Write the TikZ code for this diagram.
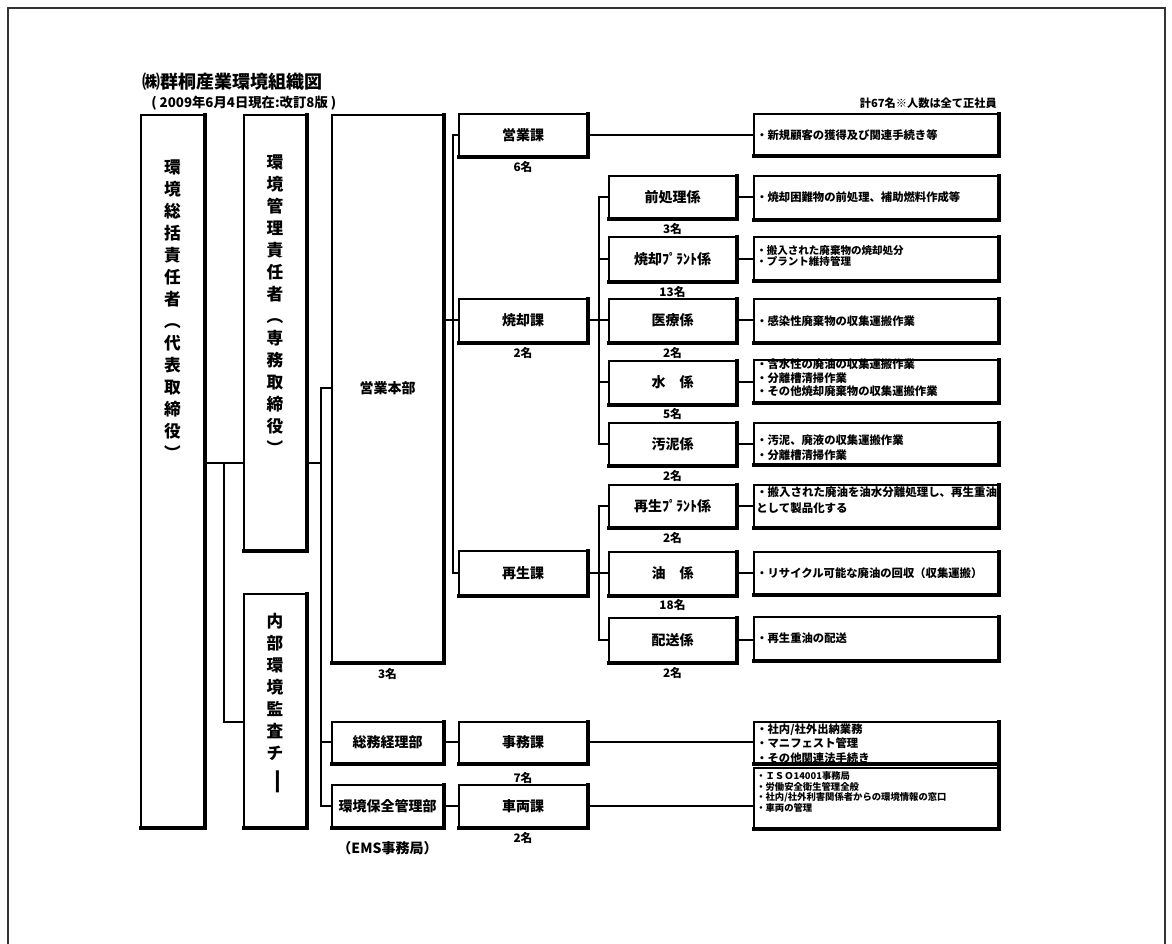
\documentclass[tikz,border=0pt]{standalone}
\usepackage{fontspec}
\usepackage{graphicx}
\setmainfont{Noto Sans CJK JP}
\newcommand\fsz[2]{\fontsize{#1}{#2}\selectfont}
\newcommand\shd[1]{\draw[line width=2.4pt,line join=miter,line cap=rect] ([xshift=0.7pt]#1.north east) -- ([xshift=0.7pt,yshift=-0.7pt]#1.south east) -- ([yshift=-0.7pt]#1.south west);}
\newcommand\mkbox[7][]{\node[bx,minimum width={(#5-#3)*0.75pt},minimum height={(#6-#4)*0.75pt},#1] (#2) at (#3,#4) {#7};\shd{#2}}
\begin{document}
\begin{tikzpicture}[x=0.75pt,y=-0.75pt,
  bx/.style={draw,line width=0.9pt,inner sep=0pt,outer sep=0pt,anchor=north west,font=\bfseries\fsz{10.5}{12}},
  vtx/.style={align=center,inner sep=0pt,anchor=north,font=\bfseries\fsz{12.5}{16.5}},
  num/.style={inner sep=0pt,font=\bfseries\fsz{8.8}{10}},
  dtx/.style={anchor=west,align=left,inner sep=0pt,font=\bfseries\fsz{8.5}{10}},
  cn/.style={line width=1.5pt}]
\useasboundingbox (0,0) rectangle (1172,944);
\draw[line width=1pt,black!80] (8,944) -- (8,8) -- (1165,8) -- (1165,944);
% titles
\node[anchor=west,inner sep=0pt,font=\bfseries\fsz{13.5}{14}] (title) at (142,82) {㈱群桐産業環境組織図};
\node[anchor=west,inner sep=0pt,font=\bfseries\fsz{10}{11}] (sub) at (151,103) {( 2009年6月4日現在:改訂8版 )};
\node[anchor=east,inner sep=0pt,font=\bfseries\fsz{8.4}{10}] (total) at (997,103) {計67名※人数は全て正社員};
% column 1-2
\mkbox{A}{141}{115}{204}{827}{}
\mkbox{B}{244}{115}{306}{550}{}
\mkbox{C}{244}{594}{306}{827}{}
\node[vtx] (tA) at (172.5,160) {環\\境\\総\\括\\責\\任\\者\\︵\\代\\表\\取\\締\\役\\︶};
\node[vtx] (tB) at (275,155) {環\\境\\管\\理\\責\\任\\者\\︵\\専\\務\\取\\締\\役\\︶};
\node[vtx] (tC) at (275,613) {内\\部\\環\\境\\監\\査\\チ\\[3pt]\rotatebox[origin=c]{-90}{\scalebox{1.6}[1]{ー}}};
% column 3
\mkbox{D}{332}{115}{443}{662}{営業本部}
\mkbox{So}{332}{722}{443}{763}{総務経理部}
\mkbox{Hk}{332}{785}{443}{827}{環境保全管理部}
\node[num] (nD) at (387.5,674) {3名};
\node[inner sep=0pt,font=\bfseries\fsz{10.5}{12}] (ems) at (387.5,848) {（EMS事務局）};
% column 4
\mkbox{K1}{459}{114}{587}{156}{営業課}
\mkbox{K2}{459}{299}{587}{342}{焼却課}
\mkbox{K3}{459}{551}{587}{595}{再生課}
\mkbox{J}{459}{722}{587}{763}{事務課}
\mkbox{Sh}{459}{785}{587}{827}{車両課}
\node[num] (nK1) at (523,167) {6名};
\node[num] (nK2) at (523,353) {2名};
\node[num] (nJ) at (523,778) {7名};
\node[num] (nSh) at (523,838) {2名};
% column 5
\mkbox{S1}{609}{176}{736}{218}{前処理係}
\mkbox{S2}{609}{237}{736}{281}{焼却ﾌﾟﾗﾝﾄ係}
\mkbox{S3}{609}{299}{736}{342}{医療係}
\mkbox{S4}{609}{361}{736}{404}{水　係}
\mkbox{S5}{609}{423}{736}{465}{汚泥係}
\mkbox{S6}{609}{485}{736}{527}{再生ﾌﾟﾗﾝﾄ係}
\mkbox{S7}{609}{552}{736}{595}{油　係}
\mkbox{S8}{609}{618}{736}{662}{配送係}
\node[num] (nS1) at (672.5,229) {3名};
\node[num] (nS2) at (672.5,292) {13名};
\node[num] (nS3) at (672.5,353) {2名};
\node[num] (nS4) at (672.5,414) {5名};
\node[num] (nS5) at (672.5,476) {2名};
\node[num] (nS6) at (672.5,538) {2名};
\node[num] (nS7) at (672.5,605) {18名};
\node[num] (nS8) at (672.5,673) {2名};
% descriptions
\mkbox{d1}{754}{114}{998}{155}{}
\mkbox{d2}{754}{176}{998}{219}{}
\mkbox{d3}{754}{237}{998}{280}{}
\mkbox{d4}{754}{299}{998}{342}{}
\mkbox{d5}{754}{360}{998}{402}{}
\mkbox{d6}{754}{423}{998}{464}{}
\mkbox{d7}{754}{485}{998}{527}{}
\mkbox{d8}{754}{552}{998}{594}{}
\mkbox{d9}{754}{617}{998}{660}{}
\mkbox{d10}{754}{722}{998}{763}{}
\mkbox{d11}{754}{768}{998}{828}{}
\node[dtx] (t1) at (756,135) {・新規顧客の獲得及び関連手続き等};
\node[dtx] (t2) at (756,197) {・焼却困難物の前処理、補助燃料作成等};
\node[dtx,font=\bfseries\fsz{7.9}{8.8}] (t3) at (756,256) {・搬入された廃棄物の焼却処分\\・プラント維持管理};
\node[dtx] (t4) at (756,321) {・感染性廃棄物の収集運搬作業};
\node[dtx,font=\bfseries\fsz{8.5}{10.1}] (t5) at (756,378) {・含水性の廃油の収集運搬作業\\・分離槽清掃作業\\・その他焼却廃棄物の収集運搬作業};
\node[dtx,font=\bfseries\fsz{8.5}{11.5}] (t6) at (756,448) {・汚泥、廃液の収集運搬作業\\・分離槽清掃作業};
\node[dtx,font=\bfseries\fsz{8.6}{12.2}] (t7) at (756,500) {・搬入された廃油を油水分離処理し、再生重油\\として製品化する};
\node[dtx] (t8) at (756,573) {・リサイクル可能な廃油の回収（収集運搬）};
\node[dtx] (t9) at (756,638) {・再生重油の配送};
\node[dtx,font=\bfseries\fsz{8.5}{10.9}] (t10) at (756,743.5) {・社内/社外出納業務\\・マニフェスト管理\\・その他関連法手続き};
\node[dtx,font=\bfseries\fsz{7}{8}] (t11) at (756,792) {・ＩＳＯ14001事務局\\・労働安全衛生管理全般\\・社内/社外利害関係者からの環境情報の窓口\\・車両の管理};
% connectors
\coordinate (j1) at (224,463);
\coordinate (j2) at (321,463);
\coordinate (cC) at (244,722);
\coordinate (j3) at (453,0);
\coordinate (j4) at (599,0);
\draw[cn] (A.east |- j1) -- (B.west |- j1);
\draw[cn] (j1) |- (C.west |- cC);
\draw[cn] (B.east |- j2) -- (j2);
\draw[cn] (D.west) -- (D.west -| j2) -- (j2 |- Hk.west) -- (Hk.west);
\draw[cn] (So.west) -- (So.west -| j2);
\draw[cn] (D.east |- K2.west) -- (K2.west);
\draw[cn] (K1.west) -- (K1.west -| j3) -- (j3 |- K3.west) -- (K3.west);
\draw[cn] (K2.east) -- (K2.east -| j4);
\draw[cn] (S1.west) -- (S1.west -| j4) -- (j4 |- S5.west) -- (S5.west);
\draw[cn] (S2.west) -- (S2.west -| j4);
\draw[cn] (S3.west) -- (S3.west -| j4);
\draw[cn] (S4.west) -- (S4.west -| j4);
\draw[cn] (K3.east) -- (K3.east -| j4);
\draw[cn] (S6.west) -- (S6.west -| j4) -- (j4 |- S8.west) -- (S8.west);
\draw[cn] (S7.west) -- (S7.west -| j4);
\draw[cn] (K1.east) -- (d1.west |- K1.east);
\draw[line width=0.8pt] (S1.east) -- (d2.west |- S1.east);
\draw[cn] (S2.east) -- (d3.west |- S2.east);
\draw[cn] (S3.east) -- (d4.west |- S3.east);
\draw[cn] (S4.east) -- (d5.west |- S4.east);
\draw[cn] (S5.east) -- (d6.west |- S5.east);
\draw[cn] (S6.east) -- (d7.west |- S6.east);
\draw[cn] (S7.east) -- (d8.west |- S7.east);
\draw[cn] (S8.east) -- (d9.west |- S8.east);
\draw[cn] (So.east) -- (J.west);
\draw[cn] (J.east) -- (d10.west |- J.east);
\draw[cn] (Hk.east) -- (Sh.west);
\draw[cn] (Sh.east) -- (d11.west |- Sh.east);
\end{tikzpicture}
\end{document}
